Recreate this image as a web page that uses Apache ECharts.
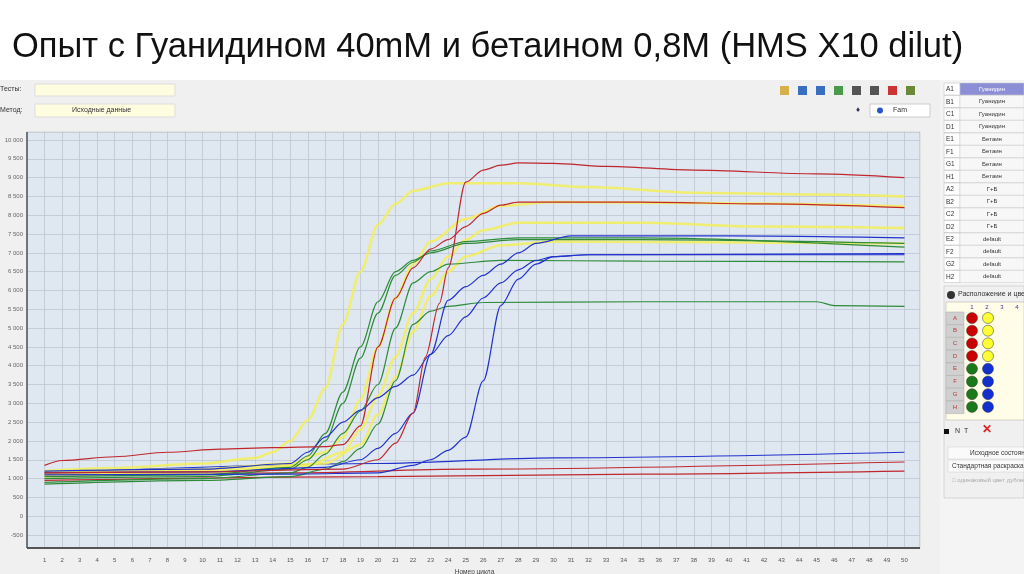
<!DOCTYPE html>
<html><head><meta charset="utf-8">
<script src="https://cdn.jsdelivr.net/npm/echarts@6/dist/echarts.min.js"></script>
<style>html,body{margin:0;padding:0;background:#fff}#c{width:1024px;height:574px}</style>
</head><body><div id="c"></div>
<script>
const titleText = 'Опыт с Гуанидином 40mM и бетаином 0,8M (HMS X10 dilut)';
const yAxisName = 'Флуоресценция';
const xAxisName = 'Номер цикла';
const wells = ['A1','B1','C1','D1','E1','F1','G1','H1','A2','B2','C2','D2','E2','F2','G2','H2'];
const wellNames = ['Гуанидин','Гуанидин','Гуанидин','Гуанидин','Бетаин','Бетаин','Бетаин','Бетаин','Г+Б','Г+Б','Г+Б','Г+Б','default','default','default','default'];
const plateRows = ['A','B','C','D','E','F','G','H'];

const R1 = [[1,1150],[10,1180],[18,1250],[20,1500],[21,1940],[22,2740],[22.7,4230],[23.5,5660],[24,6600],[25,8880],[26,9200],[27,9330],[28,9390],[30,9380],[33,9300],[38,9200],[45,9100],[50,9000]];
const R2 = [[1,1350],[2,1480],[5,1580],[8,1700],[11,1780],[14,1820],[17,1850],[18,1900],[19,2400],[20,4500],[21,5800],[22,6600],[23,7100],[24,7350],[25,7700],[26,8050],[27,8270],[28,8350],[35,8350],[42,8300],[50,8200]];
const R3 = [[1,1100],[15,1150],[25,1250],[50,1440]];
const R4 = [[1,950],[20,1050],[35,1120],[50,1200]];
const Y1 = [[1,1200],[5,1280],[10,1400],[13,1550],[14,1700],[15,2000],[16,2550],[17,3400],[18,5100],[19,6500],[20,7750],[21,8300],[22,8650],[24,8850],[28,8850],[32,8750],[38,8600],[45,8550],[50,8500]];
const Y2 = [[1,1150],[10,1250],[15,1400],[17,1700],[18,2100],[19,3100],[20,4500],[21,5800],[22,6700],[23,7300],[25,7900],[27,8250],[30,8350],[40,8320],[50,8240]];
const Y3 = [[1,1100],[10,1200],[16,1350],[18,1700],[19,2300],[20,3200],[21,4230],[22,5400],[23,6300],[24,6900],[25,7350],[26,7600],[28,7800],[35,7800],[42,7700],[50,7660]];
const Y4 = [[1,1050],[10,1150],[17,1400],[19,1900],[20,2700],[21,3700],[22,4900],[23,5850],[24,6500],[25,6900],[27,7200],[30,7300],[50,7250]];
const G1 = [[1,1050],[10,1100],[15,1300],[16,1600],[17,2200],[18,3300],[19,4500],[20,5700],[21,6500],[22,6800],[23,7000],[25,7250],[28,7350],[35,7350],[50,7250]];
const G2 = [[1,1000],[10,1050],[15,1250],[16,1500],[17,2000],[18,3000],[19,4200],[20,5400],[21,6400],[22,6750],[23,7050],[25,7300],[28,7400],[35,7400],[50,7150]];
const G3 = [[1,900],[10,1000],[15,1150],[16,1300],[17,1650],[18,2200],[19,2800],[20,3500],[21,5000],[22,6200],[23,6500],[24,6700],[27,6800],[35,6780],[50,6760]];
const G4 = [[1,850],[10,950],[15,1050],[17,1250],[18,1450],[19,1800],[20,2450],[21,3600],[22,5100],[23,5450],[24,5580],[26,5680],[35,5700],[45,5700],[46,5600],[50,5580]];
const B1 = [[1,1200],[10,1250],[15,1400],[16,1700],[17,2100],[18,2500],[19,2820],[20,3150],[21,3450],[22,3750],[23,4300],[24,4800],[25,5300],[26,5800],[27,6200],[28,6550],[29,6800],[30,6900],[32,6950],[50,6950]];
const B2 = [[1,1150],[10,1180],[17,1300],[19,1500],[20,1800],[21,2200],[22,2740],[23,4300],[24,5740],[25,6100],[26,6400],[27,6700],[28,7000],[29,7250],[31,7450],[40,7450],[50,7400]];
const B3 = [[1,1100],[15,1120],[20,1150],[22,1350],[23,1500],[24,1750],[25,2100],[26,3600],[27,5600],[28,6300],[29,6700],[30,6900],[32,6950],[50,6980]];
const B4 = [[1,1150],[20,1400],[30,1550],[50,1700]];

const RED='#c0272d', YEL='#f3ef5a', GRN='#2e8b3a', BLU='#2233cc';
const curves = [
 [R3,RED,1.2],[R4,RED,1.2],[B4,BLU,1.2],
 [Y1,YEL,2.5],[Y2,YEL,2.5],[Y3,YEL,2.5],[Y4,YEL,2.5],
 [G1,GRN,1.2],[G2,GRN,1.2],[G3,GRN,1.2],[G4,GRN,1.2],
 [B1,BLU,1.2],[B2,BLU,1.2],[B3,BLU,1.2],
 [R1,RED,1.2],[R2,RED,1.2]];

const fmt = v => { const s=Math.abs(v).toString(); const t=s.replace(/\B(?=(\d{3})+(?!\d))/g,' '); return (v<0?'-':'')+t; };

const g = [];
g.push({type:'rect',shape:{x:0,y:80,width:940,height:494},style:{fill:'#f0f0f0'},z:-10});
g.push({type:'rect',shape:{x:27,y:132,width:893,height:416},style:{fill:'#dfe7f1',stroke:'#888',lineWidth:0.5},z:-5});
g.push({type:'rect',shape:{x:27,y:118,width:900,height:13.5},style:{fill:'#f0f0f0'},z:100});
g.push({type:'rect',shape:{x:920.5,y:118,width:10,height:440},style:{fill:'#f0f0f0'},z:100});
g.push({type:'rect',shape:{x:27,y:549,width:900,height:6},style:{fill:'#f0f0f0'},z:100});
g.push({type:'line',shape:{x1:27,y1:548,x2:920,y2:548},style:{stroke:'#555',lineWidth:2},z:101});
g.push({type:'line',shape:{x1:27,y1:132,x2:27,y2:548},style:{stroke:'#555',lineWidth:1.5},z:101});
g.push({type:'text',x:0,y:86,style:{text:'Тесты:',fontSize:7,fill:'#333',fontFamily:'Liberation Sans'}});
g.push({type:'rect',shape:{x:35,y:84,width:140,height:12},style:{fill:'#fffde0',stroke:'#ddd'}});
g.push({type:'text',x:0,y:107,style:{text:'Метод:',fontSize:7,fill:'#333',fontFamily:'Liberation Sans'}});
g.push({type:'rect',shape:{x:35,y:104,width:140,height:13},style:{fill:'#fffde0',stroke:'#ddd'}});
g.push({type:'text',x:72,y:107,style:{text:'Исходные данные',fontSize:7,fill:'#333',fontFamily:'Liberation Sans'}});
g.push({type:'rect',shape:{x:870,y:104,width:60,height:13},style:{fill:'#fff',stroke:'#ccc'}});
g.push({type:'circle',shape:{cx:880,cy:110.5,r:3},style:{fill:'#2a55c8'}});
g.push({type:'text',x:893,y:107,style:{text:'Fam',fontSize:7,fill:'#333',fontFamily:'Liberation Sans'}});
g.push({type:'text',x:856,y:106,style:{text:'♦',fontSize:8,fill:'#335'}});
['#d8b04a','#3a6fbf','#3a6fbf','#4a9a4a','#555','#555','#c33','#6a8a3a'].forEach((c,i)=>{
  g.push({type:'rect',shape:{x:780+i*18,y:86,width:9,height:9},style:{fill:c}});
});
// well table
g.push({type:'rect',shape:{x:940,y:80,width:84,height:494},style:{fill:'#f4f4f4'}});
wells.forEach((w,i)=>{
  const y=83+i*12.5;
  g.push({type:'rect',shape:{x:944,y:y,width:16,height:12},style:{fill:'#fff',stroke:'#bbb',lineWidth:0.5}});
  g.push({type:'rect',shape:{x:960,y:y,width:64,height:12},style:{fill:i===0?'#8c8fd6':'#f7f7f7',stroke:'#ccc',lineWidth:0.5}});
  g.push({type:'text',x:946,y:y+3,style:{text:w,fontSize:6.5,fill:'#333',fontFamily:'Liberation Sans'}});
  g.push({type:'text',x:992,y:y+3,style:{text:wellNames[i],fontSize:6,fill:i===0?'#fff':'#333',align:'center',fontFamily:'Liberation Sans'}});
});
g.push({type:'rect',shape:{x:944,y:286,width:80,height:212},style:{fill:'#f0f0f0',stroke:'#bbb',lineWidth:0.5}});
g.push({type:'circle',shape:{cx:951,cy:295,r:4},style:{fill:'#333'}});
g.push({type:'text',x:958,y:291,style:{text:'Расположение и цвет',fontSize:7,fill:'#333',fontFamily:'Liberation Sans'}});
g.push({type:'rect',shape:{x:946,y:302,width:78,height:118},style:{fill:'#fffde8',stroke:'#aaa',lineWidth:0.5}});
[1,2,3,4].forEach(n=>g.push({type:'text',x:957+n*15,y:304,style:{text:String(n),fontSize:6,fill:'#33a',align:'center'}}));
plateRows.forEach((r,i)=>{
  const y=318+i*12.7;
  g.push({type:'rect',shape:{x:946,y:y-6,width:18,height:12.7},style:{fill:'#d0d0d0',stroke:'#aaa',lineWidth:0.5}});
  g.push({type:'text',x:955,y:y-3,style:{text:r,fontSize:6,fill:'#b33',align:'center'}});
  g.push({type:'circle',shape:{cx:972,cy:y,r:5.5},style:{fill:i<4?'#c00':'#1a7a1a',stroke:'#333',lineWidth:0.5}});
  g.push({type:'circle',shape:{cx:988,cy:y,r:5.5},style:{fill:i<4?'#ffff33':'#1030d0',stroke:'#333',lineWidth:0.5}});
});
g.push({type:'rect',shape:{x:944,y:429,width:5,height:5},style:{fill:'#111'}});
g.push({type:'text',x:955,y:428,style:{text:'N  T',fontSize:7,fill:'#333'}});
g.push({type:'text',x:982,y:424,style:{text:'✕',fontSize:12,fill:'#d22',fontWeight:'bold'}});
g.push({type:'rect',shape:{x:948,y:447,width:76,height:12},style:{fill:'#fafafa',stroke:'#ccc',lineWidth:0.5}});
g.push({type:'text',x:970,y:450,style:{text:'Исходное состояние',fontSize:6.5,fill:'#333',fontFamily:'Liberation Sans'}});
g.push({type:'rect',shape:{x:948,y:460,width:76,height:12},style:{fill:'#fafafa',stroke:'#ccc',lineWidth:0.5}});
g.push({type:'text',x:952,y:463,style:{text:'Стандартная раскраска',fontSize:6.5,fill:'#333',fontFamily:'Liberation Sans'}});
g.push({type:'text',x:952,y:477,style:{text:'□ одинаковый цвет дублей',fontSize:6,fill:'#aaa',fontFamily:'Liberation Sans'}});

const option = {
  animation:false,
  backgroundColor:'#fff',
  title:{text:titleText,left:7,top:25,textStyle:{fontSize:34.5,fontWeight:'normal',color:'#111',fontFamily:'Liberation Sans'}},
  graphic:g,
  grid:{left:27,right:102,top:121.2,bottom:20.2,show:false,containLabel:false,outerBoundsMode:'none'},
  xAxis:{type:'value',min:0,max:51,interval:1,
    name:xAxisName,nameLocation:'middle',nameGap:12,nameTextStyle:{fontSize:6.5,color:'#444'},
    axisLine:{show:false},axisTick:{show:false},
    axisLabel:{fontSize:6,color:'#555',margin:4,formatter:v=>(v>=1&&v<=50)?String(v):''},
    splitLine:{show:true,lineStyle:{color:'#bcc6d3',width:0.8}}},
  yAxis:{type:'value',min:-1000,max:10500,interval:500,
    name:yAxisName,nameLocation:'middle',nameGap:18,nameRotate:90,nameTextStyle:{fontSize:6.5,color:'#444'},
    axisLine:{show:false},axisTick:{show:false},
    axisLabel:{fontSize:6,color:'#666',margin:4,formatter:v=>(v>=-500&&v<=10000)?fmt(v):''},
    splitLine:{show:true,lineStyle:{color:'#bcc6d3',width:0.8}}},
  series:curves.map((c,i)=>({type:'line',data:c[0],symbol:'none',smooth:0.3,smoothMonotone:'x',
    lineStyle:{color:c[1],width:c[2],opacity:c[1]===YEL?0.85:1},z:5+i}))
};
echarts.init(document.getElementById('c')).setOption(option);
</script></body></html>
